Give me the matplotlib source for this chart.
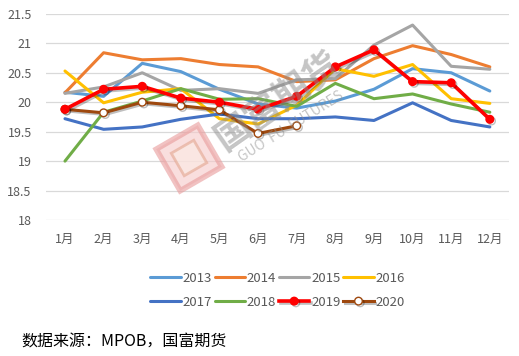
import matplotlib
matplotlib.use("Agg")
from matplotlib import pyplot as plt
from matplotlib import patheffects as pe
from matplotlib.patches import Rectangle
from matplotlib import transforms

plt.rcParams['font.family'] = ['Noto Sans CJK SC', 'DejaVu Sans']

months = ['1月', '2月', '3月', '4月', '5月', '6月', '7月', '8月', '9月', '10月', '11月', '12月']
y2013 = [20.17, 20.10, 20.66, 20.52, 20.22, 19.97, 19.90, 20.02, 20.22, 20.57, 20.50, 20.19]
y2014 = [20.16, 20.84, 20.72, 20.74, 20.64, 20.60, 20.35, 20.38, 20.74, 20.96, 20.81, 20.60]
y2015 = [20.15, 20.26, 20.50, 20.20, 20.23, 20.15, 20.38, 20.40, 20.97, 21.31, 20.61, 20.56]
y2016 = [20.53, 19.99, 20.17, 20.23, 19.72, 19.63, 19.95, 20.57, 20.44, 20.64, 20.06, 19.98]
y2017 = [19.72, 19.54, 19.58, 19.71, 19.80, 19.72, 19.72, 19.75, 19.69, 19.99, 19.69, 19.58]
y2018 = [19.00, 19.83, 20.02, 20.23, 20.05, 20.06, 19.93, 20.32, 20.06, 20.14, 19.97, 19.83]
y2019 = [19.88, 20.22, 20.27, 20.07, 20.00, 19.88, 20.10, 20.60, 20.89, 20.35, 20.33, 19.71]
y2020 = [19.88, 19.82, 20.00, 19.94, 19.87, 19.47, 19.60]
yticks = [18, 18.5, 19, 19.5, 20, 20.5, 21, 21.5]
ytick_labels = ['18', '18.5', '19', '19.5', '20', '20.5', '21', '21.5']

fig = plt.figure(figsize=(5.19, 3.56), dpi=100)
ax = fig.add_axes([0.088, 0.382, 0.893, 0.579])

x = list(range(1, 13))
shadow = [pe.SimpleLineShadow(offset=(1.2, -1.2), shadow_color='black', alpha=0.25), pe.Normal()]

h13, = ax.plot(x, y2013, color='#5B9BD5', lw=2.2, label='2013', solid_capstyle='round')
h14, = ax.plot(x, y2014, color='#ED7D31', lw=2.2, label='2014', solid_capstyle='round')
h15, = ax.plot(x, y2015, color='#A5A5A5', lw=2.2, label='2015', solid_capstyle='round')
h16, = ax.plot(x, y2016, color='#FFC000', lw=2.2, label='2016', solid_capstyle='round')
h17, = ax.plot(x, y2017, color='#4472C4', lw=2.2, label='2017', solid_capstyle='round')
h18, = ax.plot(x, y2018, color='#70AD47', lw=2.2, label='2018', solid_capstyle='round')
h19, = ax.plot(x, y2019, color='#FF0000', lw=2.6, marker='o', markersize=5.5,
               label='2019', path_effects=shadow, zorder=5)
h20, = ax.plot(x[:len(y2020)], y2020, color='#9E480E', lw=2.2, marker='o', markersize=5.5,
               markerfacecolor='white', markeredgecolor='#9E480E', markeredgewidth=1,
               label='2020', path_effects=shadow, zorder=4)

ax.set_xlim(0.5, 12.5)
ax.set_ylim(18, 21.5)
ax.set_yticks(yticks)
ax.set_yticklabels(ytick_labels)
ax.set_xticks(x)
ax.set_xticklabels(months)
ax.tick_params(length=0, labelsize=9, colors='#595959')
ax.tick_params(axis='y', pad=10)
ax.tick_params(axis='x', pad=9)
ax.grid(axis='y', color='#D9D9D9', lw=0.9)
ax.set_axisbelow(True)
for s in ax.spines.values():
    s.set_visible(False)

# legend: rows 2013-2016 / 2017-2020
handles = [h13, h17, h14, h18, h15, h19, h16, h20]
leg = fig.legend(handles=handles, labels=[h.get_label() for h in handles], ncol=4,
                 loc='center', bbox_to_anchor=(0.535, 0.185), frameon=False,
                 fontsize=9.5, handlelength=2.3, handletextpad=0.15, columnspacing=0.2,
                 labelspacing=0.85, labelcolor='#595959')

# watermark
fig.text(0.535, 0.715, '国富期货', fontsize=26, color='#8C8C8C', alpha=0.5,
         rotation=35, ha='center', va='center', fontweight='bold')
fig.text(0.56, 0.645, 'GUO  FU  FUTURES', fontsize=10, color='#8C8C8C', alpha=0.5,
         rotation=32, ha='center', va='center')
tr = transforms.Affine2D().rotate_deg_around(189, 198, 30)
logo = Rectangle((165, 174), 48, 48, facecolor='#F6C9C9', edgecolor='#E89A9A', lw=4,
                 alpha=0.6, transform=tr)
inner = Rectangle((176, 185), 26, 26, facecolor='#FBEDE6', edgecolor='#E3A58F', lw=2,
                  alpha=0.6, transform=tr)
fig.patches.append(logo)
fig.patches.append(inner)

fig.text(0.042, 0.04, '数据来源：MPOB，国富期货', fontsize=11.5, color='black', ha='left', va='center')

fig.savefig('out.png', dpi=100)
